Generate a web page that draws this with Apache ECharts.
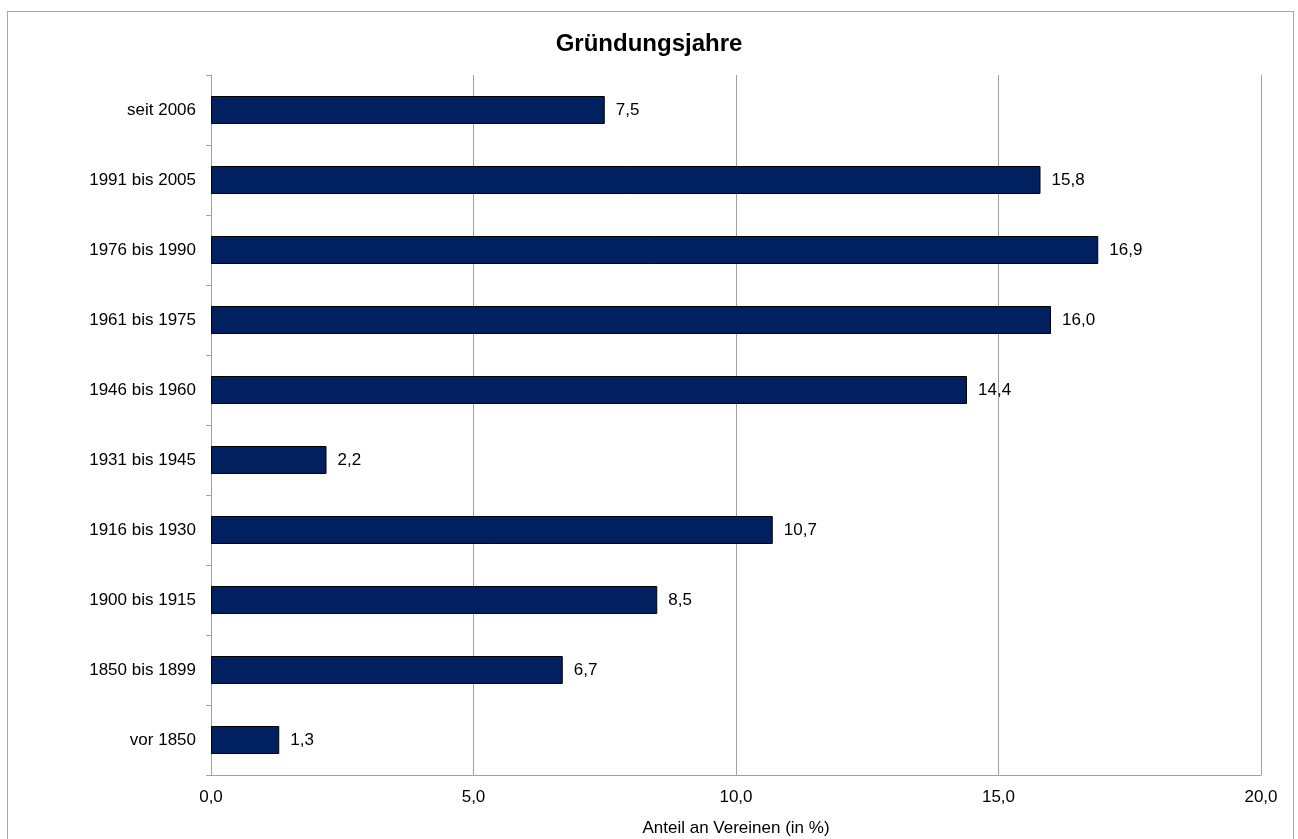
<!DOCTYPE html>
<html><head><meta charset="utf-8">
<script src="https://cdn.jsdelivr.net/npm/echarts@6/dist/echarts.min.js"></script>
<style>
html,body{margin:0;padding:0;background:#fff;}
#frame{position:absolute;left:7px;top:11px;width:1287px;height:840px;border:1px solid #a6a6a6;box-sizing:border-box;}
#c{position:absolute;left:0;top:0;width:1298px;height:839px;}
</style></head>
<body>
<div id="frame"></div>
<div id="c"></div>
<script>
const categories = ["vor 1850","1850 bis 1899","1900 bis 1915","1916 bis 1930","1931 bis 1945","1946 bis 1960","1961 bis 1975","1976 bis 1990","1991 bis 2005","seit 2006"];
const values = [1.3, 6.7, 8.5, 10.7, 2.2, 14.4, 16.0, 16.9, 15.8, 7.5];
const titleText = "Gründungsjahre";
const xAxisName = "Anteil an Vereinen (in %)";

const fmt = v => v.toFixed(1).replace('.', ',');
const FF = 'Liberation Sans, Arial, sans-serif';
const chart = echarts.init(document.getElementById('c'));
chart.setOption({
  animation:false,
  textStyle:{fontFamily:FF},
  title:{text:titleText,left:'center',top:27,textStyle:{fontSize:24,fontWeight:'bold',color:'#000',fontFamily:FF}},
  grid:{left:211,right:37,top:75,bottom:64,containLabel:false,outerBoundsMode:'none'},
  xAxis:{type:'value',min:0,max:20,interval:5,
    name:xAxisName,nameLocation:'middle',nameGap:45,
    nameTextStyle:{fontSize:17,color:'#000',fontFamily:FF},
    axisLine:{show:true,lineStyle:{color:'#a0a0a0'}},
    axisTick:{show:false},
    splitLine:{show:true,lineStyle:{color:'#a0a0a0',width:1}},
    axisLabel:{fontSize:17,color:'#000',margin:14,formatter:fmt,fontFamily:FF}},
  yAxis:{type:'category',data:categories,
    axisLine:{show:true,lineStyle:{color:'#a0a0a0'}},
    axisTick:{show:true,length:5,lineStyle:{color:'#a0a0a0'}},
    axisLabel:{fontSize:17,color:'#000',margin:15,fontFamily:FF}},
  series:[{type:'bar',data:values,barWidth:'40%',
    itemStyle:{color:'#002060',borderColor:'#000',borderWidth:1},
    label:{show:true,position:'right',distance:11,fontSize:17,color:'#000',fontFamily:FF,formatter:p=>fmt(p.value)}}]
});
</script>
</body></html>
